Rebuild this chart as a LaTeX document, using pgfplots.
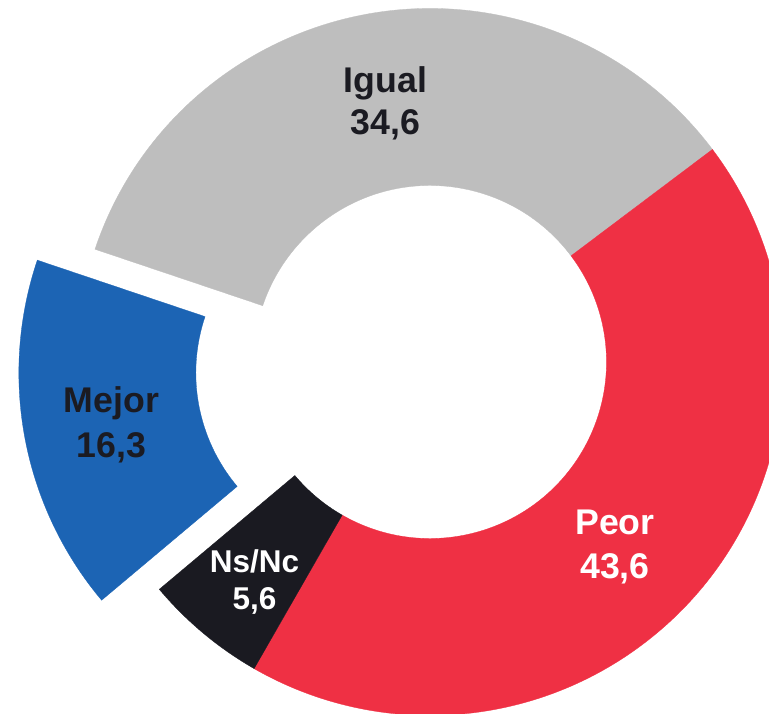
\documentclass[border=0pt]{standalone}
\usepackage{fontspec}
\setmainfont{Liberation Sans}
\usepackage{pgfplots}
\usepackage{pgfplotstable}
\pgfplotsset{compat=1.18}
\definecolor{cIgual}{HTML}{BEBEBE}
\definecolor{cPeor}{HTML}{EF3044}
\definecolor{cNs}{HTML}{1A1A21}
\definecolor{cMejor}{HTML}{1C64B4}
\definecolor{cText}{HTML}{1B1B22}

\pgfplotstableread{
label value
Igual 34.6
Peor 43.6
NsNc 5.6
Mejor 16.3
}\datatable

% donut slice: color, cx, cy, lower angle, upper angle
\newcommand\donutslice[5]{%
  \fill[#1, draw=#1, line width=0.3pt]
    (axis cs:{#2+\Ro*cos(#5)},{#3+\Ro*sin(#5)})
    arc[start angle=#5, end angle=#4, radius=\Ro pt]
    -- (axis cs:{#2+\Ri*cos(#4)},{#3+\Ri*sin(#4)})
    arc[start angle=#4, end angle=#5, radius=\Ri pt] -- cycle;}

\begin{document}
\begin{tikzpicture}
\pgfplotstablegetelem{0}{value}\of\datatable \let\vA\pgfplotsretval
\pgfplotstablegetelem{1}{value}\of\datatable \let\vB\pgfplotsretval
\pgfplotstablegetelem{2}{value}\of\datatable \let\vC\pgfplotsretval
\pgfplotstablegetelem{3}{value}\of\datatable \let\vD\pgfplotsretval
\pgfmathsetmacro\T{\vA+\vB+\vC+\vD}
\pgfmathsetmacro\aA{161.4}
\pgfmathsetmacro\aB{\aA-360*\vA/\T}
\pgfmathsetmacro\aC{\aB-360*\vB/\T}
\pgfmathsetmacro\aD{\aC-360*\vC/\T}
\pgfmathsetmacro\aE{\aD-360*\vD/\T}
\pgfmathsetmacro\aMid{(\aD+\aE)/2}
\def\Ro{353.5}
\def\Ri{176.5}
\def\cx{430}
\def\cy{352}
\pgfmathsetmacro\mx{\cx+58.7*cos(\aMid)}
\pgfmathsetmacro\my{\cy+58.7*sin(\aMid)}
\begin{axis}[
  scale only axis, width=769pt, height=714pt,
  xmin=0, xmax=769, ymin=0, ymax=714,
  hide axis, clip=true, clip bounding box=upper bound,
]
\donutslice{cIgual}{\cx}{\cy}{\aB}{\aA}
\donutslice{cPeor}{\cx}{\cy}{\aC}{\aB}
\donutslice{cNs}{\cx}{\cy}{\aD}{\aC}
\donutslice{cMejor}{\mx}{\my}{\aE}{\aD}

\begin{scope}[every node/.style={anchor=base, inner sep=0pt, font=\fontsize{35.7}{40}\selectfont\bfseries}]
\node[text=cText] at (axis cs:385.5,621.7) {Igual};
\node[text=cText] at (axis cs:385.5,579) {34,6};
\node[text=cText] at (axis cs:111.5,301) {Mejor};
\node[text=cText] at (axis cs:111.5,256) {16,3};
\node[text=white] at (axis cs:615,179) {Peor};
\node[text=white] at (axis cs:615,135) {43,6};
\node[text=white, font=\fontsize{31.5}{36}\selectfont\bfseries] at (axis cs:254.6,141.3) {Ns/Nc};
\node[text=white, font=\fontsize{31.5}{36}\selectfont\bfseries] at (axis cs:254.6,104) {5,6};
\end{scope}
\end{axis}
\pgfresetboundingbox
\useasboundingbox (current axis.south west) rectangle (current axis.north east);
\end{tikzpicture}
\end{document}
